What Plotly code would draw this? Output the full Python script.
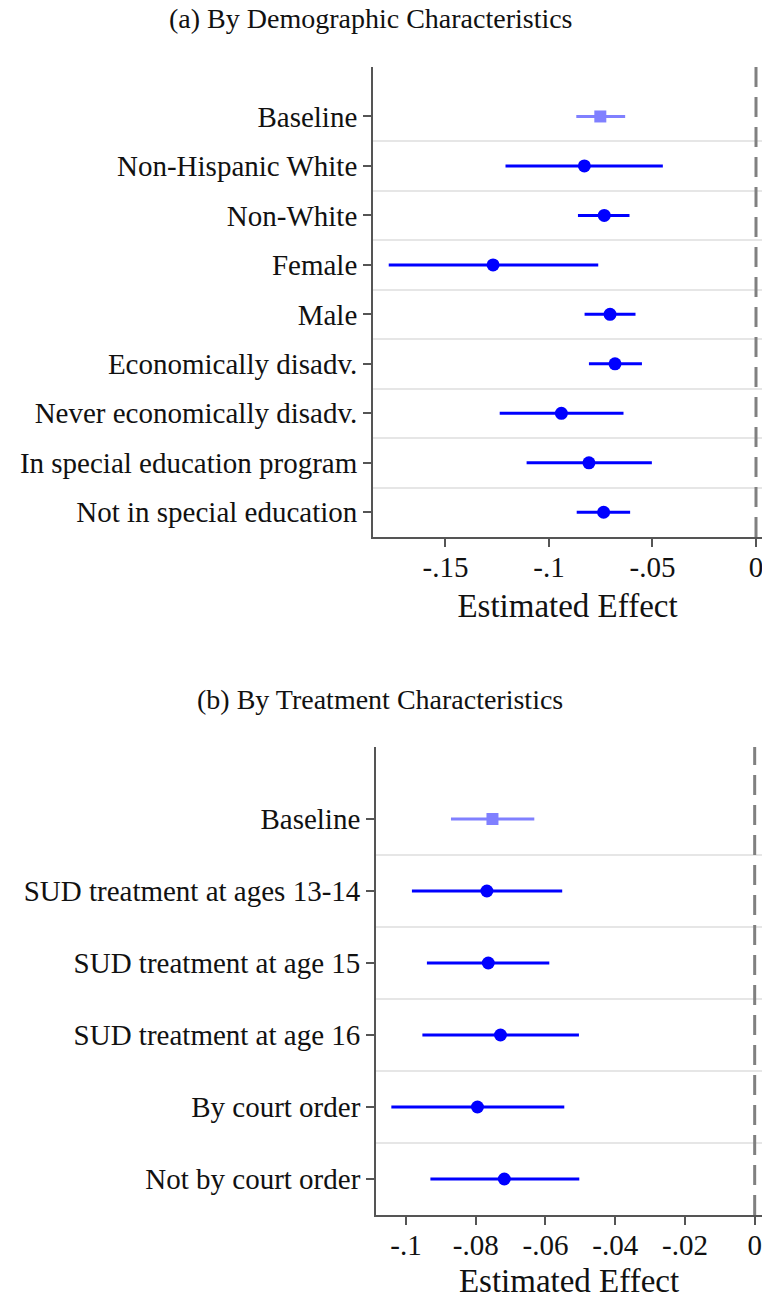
import plotly.graph_objects as go

# ---------------- data ----------------
demo_labels = ["Baseline", "Non-Hispanic White", "Non-White", "Female", "Male",
               "Economically disadv.", "Never economically disadv.",
               "In special education program", "Not in special education"]
demo_est = [-0.0752, -0.0829, -0.0733, -0.1270, -0.0705, -0.0681, -0.0940, -0.0807, -0.0736]
demo_lo = [-0.0868, -0.1210, -0.0860, -0.1774, -0.0828, -0.0807, -0.1238, -0.1108, -0.0866]
demo_hi = [-0.0632, -0.0450, -0.0611, -0.0762, -0.0582, -0.0551, -0.0640, -0.0503, -0.0608]

treat_labels = ["Baseline", "SUD treatment at ages 13-14", "SUD treatment at age 15",
                "SUD treatment at age 16", "By court order", "Not by court order"]
treat_est = [-0.0752, -0.0768, -0.0764, -0.0729, -0.0795, -0.0718]
treat_lo = [-0.0871, -0.0983, -0.0940, -0.0953, -0.1042, -0.0930]
treat_hi = [-0.0632, -0.0552, -0.0589, -0.0504, -0.0546, -0.0503]

xtick_a = [-0.15, -0.10, -0.05, 0.0]
xtext_a = ["-.15", "-.1", "-.05", "0"]
xtick_b = [-0.10, -0.08, -0.06, -0.04, -0.02, 0.0]
xtext_b = ["-.1", "-.08", "-.06", "-.04", "-.02", "0"]

title_a = "(a) By Demographic Characteristics"
title_b = "(b) By Treatment Characteristics"
xtitle = "Estimated Effect"

# ---------------- style ----------------
FONT = "Liberation Serif, Times New Roman, serif"
BLUE = "#0000ff"
LIGHT = "#8080ff"
AXC = "#555555"
GRID = "#e6e6e6"
W, H = 762, 1299

fig = go.Figure()


def add_panel(labels, est, lo, hi, xa, ya):
    ys = list(range(len(labels)))
    for i in ys:
        base = (i == 0)
        col = LIGHT if base else BLUE
        fig.add_trace(go.Scatter(
            x=[est[i]], y=[i], mode="markers",
            xaxis=xa, yaxis=ya, showlegend=False, cliponaxis=False,
            marker=dict(symbol="square" if base else "circle",
                        size=12 if base else 13, color=col,
                        line=dict(width=0)),
            error_x=dict(type="data", symmetric=False,
                         array=[hi[i] - est[i]], arrayminus=[est[i] - lo[i]],
                         color=col, thickness=3, width=0),
        ))


add_panel(demo_labels, demo_est, demo_lo, demo_hi, "x", "y")
add_panel(treat_labels, treat_est, treat_lo, treat_hi, "x2", "y2")

axis_common = dict(showline=True, linecolor=AXC, linewidth=1.8,
                   ticks="outside", ticklen=8, tickwidth=1.5, tickcolor=AXC,
                   zeroline=False, showgrid=False, automargin=False,
                   ticklabeloverflow="allow",
                   tickfont=dict(family=FONT, size=29, color="#111111"))

xaxis_extra = dict(ticklabelstandoff=-5,
                   title=dict(text=xtitle, font=dict(family=FONT, size=33), standoff=12))

fig.update_layout(
    width=W, height=H,
    margin=dict(l=0, r=0, t=0, b=0),
    paper_bgcolor="white", plot_bgcolor="white",
    font=dict(family=FONT, color="#111111"),
    xaxis=dict(domain=[373 / W, 1.0], range=[-0.185, 0.0029], anchor="y",
               tickvals=xtick_a, ticktext=xtext_a, **xaxis_extra, **axis_common),
    yaxis=dict(domain=[(H - 537) / H, (H - 67) / H], anchor="x",
               range=[len(demo_labels) - 0.5, -1],
               tickvals=list(range(len(demo_labels))), ticktext=demo_labels,
               minor=dict(tickvals=[i + 0.5 for i in range(len(demo_labels) - 1)],
                          showgrid=True, gridcolor=GRID, gridwidth=1.5, ticks=""),
               **axis_common),
    xaxis2=dict(domain=[376 / W, 1.0], range=[-0.1086, 0.0021], anchor="y2",
                tickvals=xtick_b, ticktext=xtext_b, **xaxis_extra, **axis_common),
    yaxis2=dict(domain=[(H - 1215) / H, (H - 747) / H], anchor="x2",
                range=[len(treat_labels) - 0.5, -1],
                tickvals=list(range(len(treat_labels))), ticktext=treat_labels,
                minor=dict(tickvals=[i + 0.5 for i in range(len(treat_labels) - 1)],
                           showgrid=True, gridcolor=GRID, gridwidth=1.5, ticks=""),
                **axis_common),
)

for xr, yr in [("x", "y domain"), ("x2", "y2 domain")]:
    fig.add_shape(type="line", xref=xr, yref=yr, x0=0, x1=0, y0=0, y1=1,
                  line=dict(color="#808080", width=3, dash="20px,10px"))

fig.add_annotation(text=title_a, xref="paper", yref="paper", x=371 / W, y=(H - 18) / H,
                   showarrow=False, xanchor="center", yanchor="middle",
                   font=dict(family=FONT, size=28, color="#111111"))
fig.add_annotation(text=title_b, xref="paper", yref="paper", x=380 / W, y=(H - 699) / H,
                   showarrow=False, xanchor="center", yanchor="middle",
                   font=dict(family=FONT, size=28, color="#111111"))

fig.write_html("out.html",
               config={"displayModeBar": False},
               post_script="document.body.style.margin='0px';"
                           "document.documentElement.style.overflow='hidden';")
